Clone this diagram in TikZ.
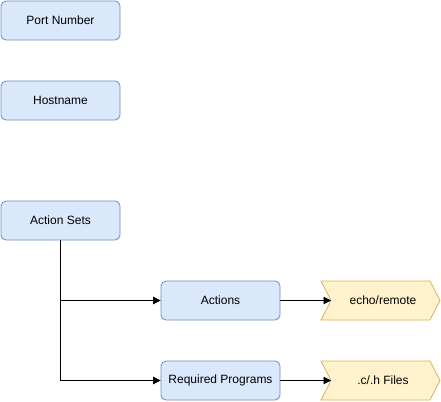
\documentclass[tikz,border=0pt]{standalone}
\usepackage{fontspec}
\setmainfont{Liberation Sans}
\usetikzlibrary{arrows.meta}
\definecolor{bfill}{HTML}{DAE8FC}
\definecolor{bline}{HTML}{6C8EBF}
\definecolor{yfill}{HTML}{FFF2CC}
\definecolor{yline}{HTML}{D6B656}
\begin{document}
\begin{tikzpicture}[x=1pt,y=-1pt,
  bluebox/.style={draw=bline,fill=bfill,rounded corners=5pt,minimum width=119pt,minimum height=39pt,inner sep=0pt,font=\fontsize{12}{14}\selectfont,line width=0.8pt},
  conn/.style={-{Triangle[length=7.5pt,width=7.5pt]},line width=0.8pt},
  lbl/.style={font=\fontsize{12}{14}\selectfont,inner sep=0pt}]
\useasboundingbox (0,0) rectangle (441,401);
\node[bluebox] (port) at (60.5,20.5) {Port Number};
\node[bluebox] (host) at (60.5,100.5) {Hostname};
\node[bluebox] (aset) at (60.5,220.5) {Action Sets};
\node[bluebox] (act) at (220.5,300.5) {Actions};
\node[bluebox] (req) at (220.5,380.5) {Required Programs};
\draw[draw=yline,fill=yfill,line width=0.8pt] (321,281) -- (430,281) -- (440,300.5) -- (430,320) -- (321,320) -- (331,300.5) -- cycle;
\draw[draw=yline,fill=yfill,line width=0.8pt] (321,361) -- (430,361) -- (440,380.5) -- (430,400) -- (321,400) -- (331,380.5) -- cycle;
\node[lbl] (echo) at (383,300.5) {echo/remote};
\node[lbl] (files) at (383,380.5) {.c/.h Files};
\coordinate (echoin) at (331,300.5);
\coordinate (filesin) at (331,380.5);
\draw[conn] (aset.south) |- (act.west);
\draw[conn] (aset.south) |- (req.west);
\draw[conn] (act.east) -- (echoin);
\draw[conn] (req.east) -- (filesin);
\end{tikzpicture}
\end{document}
